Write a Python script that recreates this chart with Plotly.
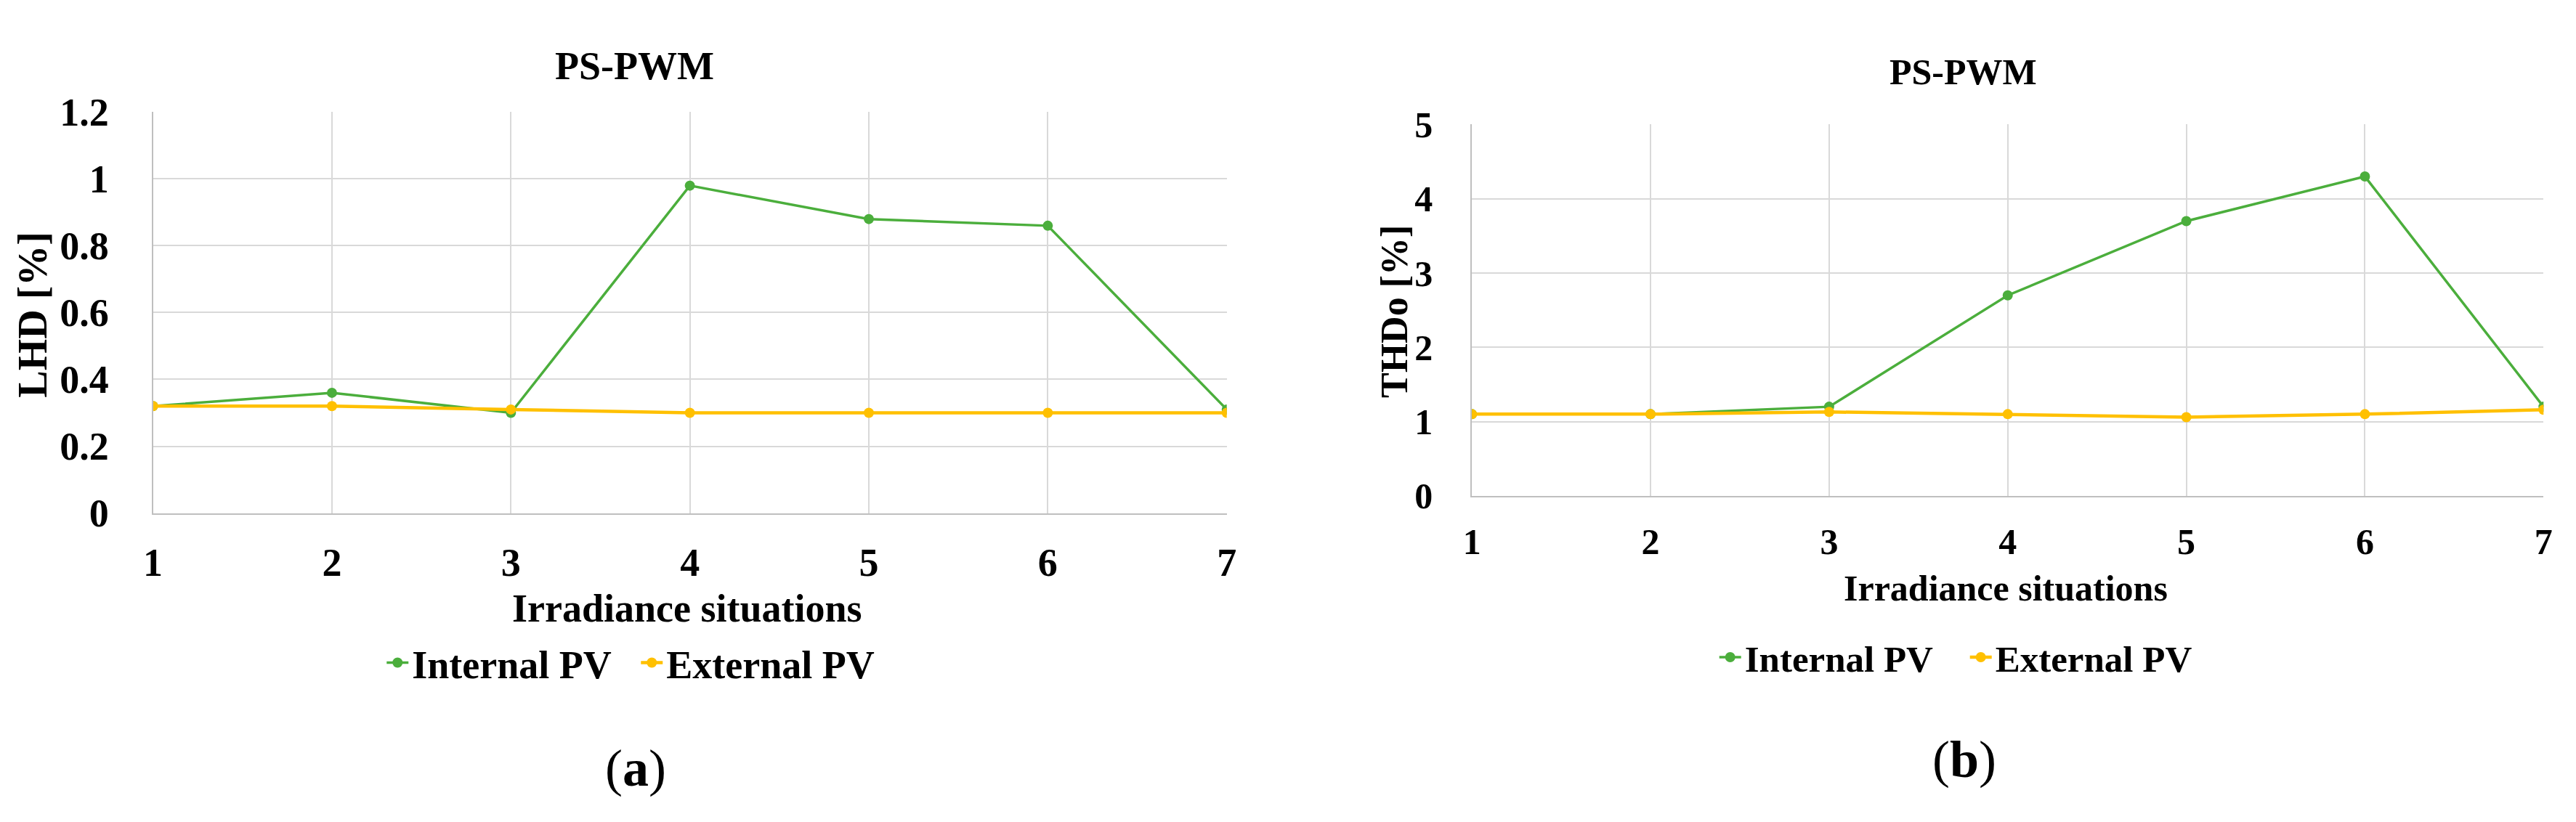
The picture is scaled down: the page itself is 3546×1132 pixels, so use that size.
import plotly.graph_objects as go

# situations on the x axis
situations = [1, 2, 3, 4, 5, 6, 7]

# (a) LHD [%]
lhd_internal = [0.32, 0.36, 0.30, 0.98, 0.88, 0.86, 0.31]
lhd_external = [0.32, 0.32, 0.31, 0.30, 0.30, 0.30, 0.30]

# (b) THDo [%]
thd_internal = [1.10, 1.10, 1.20, 2.70, 3.70, 4.30, 1.20]
thd_external = [1.10, 1.10, 1.13, 1.10, 1.06, 1.10, 1.16]

W, H = 3546, 1132
GREEN = '#4BAE3C'
YELLOW = '#FFC000'
FONT = 'Liberation Serif'


def px(x):
    return x / W


def py(y):
    return 1 - y / H


fig = go.Figure()

# left chart
fig.add_trace(go.Scatter(x=situations, y=lhd_internal, mode='lines+markers', name='Internal PV',
                         line=dict(color=GREEN, width=3.5), marker=dict(size=14, color=GREEN),
                         xaxis='x', yaxis='y', legend='legend'))
fig.add_trace(go.Scatter(x=situations, y=lhd_external, mode='lines+markers', name='External PV',
                         line=dict(color=YELLOW, width=4.5), marker=dict(size=14, color=YELLOW),
                         xaxis='x', yaxis='y', legend='legend'))

# right chart
fig.add_trace(go.Scatter(x=situations, y=thd_internal, mode='lines+markers', name='Internal PV',
                         line=dict(color=GREEN, width=3.5), marker=dict(size=14, color=GREEN),
                         xaxis='x2', yaxis='y2', legend='legend2'))
fig.add_trace(go.Scatter(x=situations, y=thd_external, mode='lines+markers', name='External PV',
                         line=dict(color=YELLOW, width=4.5), marker=dict(size=14, color=YELLOW),
                         xaxis='x2', yaxis='y2', legend='legend2'))

def xaxis(dom, anchor, size, standoff):
    return dict(domain=dom, anchor=anchor, range=[1, 7], tickvals=situations,
                showgrid=True, gridcolor='#D9D9D9', gridwidth=2,
                showline=True, linecolor='#BFBFBF', linewidth=2, zeroline=False,
                ticks='', ticklabelstandoff=standoff,
                tickfont=dict(family=FONT, size=size, color='black', weight='bold'))


def yaxis(dom, anchor, rng, dtick, size, standoff):
    return dict(domain=dom, anchor=anchor, range=rng, dtick=dtick,
                showgrid=True, gridcolor='#D9D9D9', gridwidth=2,
                showline=True, linecolor='#BFBFBF', linewidth=2, zeroline=False,
                ticks='', ticklabelstandoff=standoff,
                tickfont=dict(family=FONT, size=size, color='black', weight='bold'))


fig.update_layout(
    width=W, height=H,
    margin=dict(l=0, r=0, t=0, b=0),
    paper_bgcolor='white', plot_bgcolor='white',
    xaxis=xaxis([px(191), px(1680)], 'y', 54, 20),
    yaxis=yaxis([py(707), py(124)], 'x', [0, 1.2], 0.2, 54, 48),
    xaxis2=xaxis([px(2020), px(3506)], 'y2', 50, 18),
    yaxis2=yaxis([py(682), py(142)], 'x2', [0, 5], 1, 50, 42),
    legend=dict(orientation='h', x=px(510), xanchor='left', y=py(925), yanchor='middle',
                font=dict(family=FONT, size=54, color='black', weight='bold'),
                entrywidth=305, entrywidthmode='pixels', bgcolor='rgba(0,0,0,0)'),
    legend2=dict(orientation='h', x=px(2358), xanchor='left', y=py(917), yanchor='middle',
                 font=dict(family=FONT, size=51, color='black', weight='bold'),
                 entrywidth=300, entrywidthmode='pixels', bgcolor='rgba(0,0,0,0)'),
    showlegend=True,
)

labels = [
    ('PS-PWM', 859, 57, 54, 0),
    ('PS-PWM', 2701, 65, 50, 0),
    ('Irradiance situations', 932, 846, 54, 0),
    ('Irradiance situations', 2760, 816, 50, 0),
    ('LHD [%]', 24, 418, 56, -90),
    ('THDo [%]', 1912, 414, 52, -90),
]
for text, x, y, size, angle in labels:
    fig.add_annotation(text=text, x=px(x), y=py(y), xref='paper', yref='paper',
                       xanchor='center', yanchor='middle', showarrow=False, textangle=angle,
                       font=dict(family=FONT, size=size, color='black', weight='bold'))

for letter, x, y in [('a', 860, 1078), ('b', 2703, 1066)]:
    fig.add_annotation(text='(<b>%s</b>)' % letter, x=px(x), y=py(y), xref='paper', yref='paper',
                       xanchor='center', yanchor='middle', showarrow=False,
                       font=dict(family=FONT, size=72, color='black'))

fig.write_html("out.html")
